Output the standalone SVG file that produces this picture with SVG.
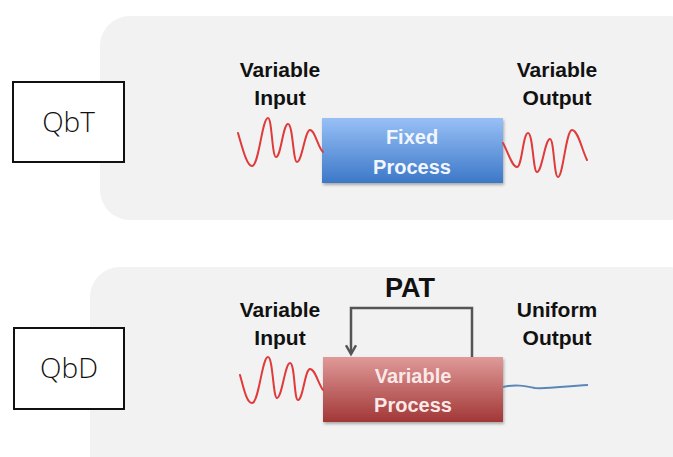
<svg xmlns="http://www.w3.org/2000/svg" width="673" height="457" viewBox="0 0 673 457">
<defs>
<linearGradient id="gBlue" x1="0" y1="0" x2="0" y2="1">
<stop offset="0" stop-color="#98c0f6"/>
<stop offset="1" stop-color="#3c78c8"/>
</linearGradient>
<linearGradient id="gRed" x1="0" y1="0" x2="0" y2="1">
<stop offset="0" stop-color="#df9a98"/>
<stop offset="1" stop-color="#a23737"/>
</linearGradient>
<marker id="arr" viewBox="0 0 10 10" refX="8" refY="5" markerWidth="5" markerHeight="5" orient="auto">
<path d="M1,1 L8,5 L1,9" fill="none" stroke="#555" stroke-width="2"/>
</marker>
<filter id="sh" x="-10%" y="-10%" width="120%" height="130%">
<feDropShadow dx="1" dy="2" stdDeviation="1.5" flood-color="#000" flood-opacity="0.3"/>
</filter>
</defs>
<style>
.panel{fill:#f2f2f2;}
.lbl{font-family:"Liberation Sans",Arial,sans-serif;font-weight:bold;font-size:21px;fill:#111;text-anchor:middle;}
.ptxt{font-family:"Liberation Sans",Arial,sans-serif;font-weight:bold;font-size:20px;text-anchor:middle;}
.qb{font-family:"Open Sans","DejaVu Sans",sans-serif;font-weight:300;font-size:28px;fill:#111;text-anchor:middle;}
.qbox{fill:#fff;stroke:#111;stroke-width:2;}
.wave{fill:none;stroke:#e03a3a;stroke-width:2;stroke-linejoin:round;stroke-linecap:round;}
.flat{fill:none;stroke:#5b87b8;stroke-width:2;}
.fb{fill:none;stroke:#555;stroke-width:2.5;}
</style>
<rect width="673" height="457" fill="#fff"/>
<rect class="panel" x="100" y="16" width="600" height="204" rx="30"/>
<rect class="panel" x="90" y="267" width="610" height="230" rx="30"/>

<g id="qbt">
<rect class="qbox" x="13" y="82" width="111" height="80"/>
<text class="qb" x="68.5" y="132">QbT</text>
</g>
<g id="qbd">
<rect class="qbox" x="14" y="328" width="110" height="81"/>
<text class="qb" x="69" y="378">QbD</text>
</g>

<g id="top-input-label">
<text class="lbl" x="280" y="77">Variable</text>
<text class="lbl" x="280" y="105">Input</text>
</g>
<g id="top-output-label">
<text class="lbl" x="557" y="77">Variable</text>
<text class="lbl" x="557" y="105">Output</text>
</g>
<g id="fixed-process">
<rect x="322" y="118" width="181" height="65" fill="url(#gBlue)" filter="url(#sh)"/>
<text class="ptxt" x="412" y="144" fill="#f2f6ff">Fixed</text>
<text class="ptxt" x="412" y="174" fill="#f2f6ff">Process</text>
</g>

<g id="bottom-input-label">
<text class="lbl" x="280" y="317">Variable</text>
<text class="lbl" x="280" y="345">Input</text>
</g>
<g id="bottom-output-label">
<text class="lbl" x="557" y="317">Uniform</text>
<text class="lbl" x="557" y="345">Output</text>
</g>
<g id="pat-label">
<text class="lbl" x="410" y="297" style="font-size:27px">PAT</text>
</g>
<g id="variable-process">
<rect x="323" y="357" width="180" height="65" fill="url(#gRed)" filter="url(#sh)"/>
<text class="ptxt" x="413" y="383" fill="#fbe8e8">Variable</text>
<text class="ptxt" x="413" y="412" fill="#fbe8e8">Process</text>
</g>

<g id="connectors">
<path class="wave" d="M238,133 C243,150 247,166 252,166 C259,166 262,118 268,118 C272,118 272,157 276,157 C281,157 283,124 288,124 C293,124 293,162 297,162 C302,162 305,130 310,130 C315,130 318,148 323,152"/>
<path class="wave" d="M503,143 C508,152 512,167 517,167 C522,167 523,133 528,133 C533,133 533,172 537,172 C542,172 545,139 550,139 C554,139 554,177 558,177 C563,177 566,130 572,130 C578,130 582,150 587,160"/>
<path class="wave" d="M240,375 C244,390 247,403 252,403 C259,403 262,357 268,357 C273,357 273,398 277,398 C282,398 285,363 290,363 C295,363 294,400 298,400 C303,400 305,369 310,369 C315,369 318,383 323,390"/>
<path class="flat" d="M503,387 C515,384 525,386 535,388 C550,389 565,386 588,385"/>
<path class="fb" d="M472,357 L472,308 L351,308 L351,354" marker-end="url(#arr)"/>
</g>
</svg>
